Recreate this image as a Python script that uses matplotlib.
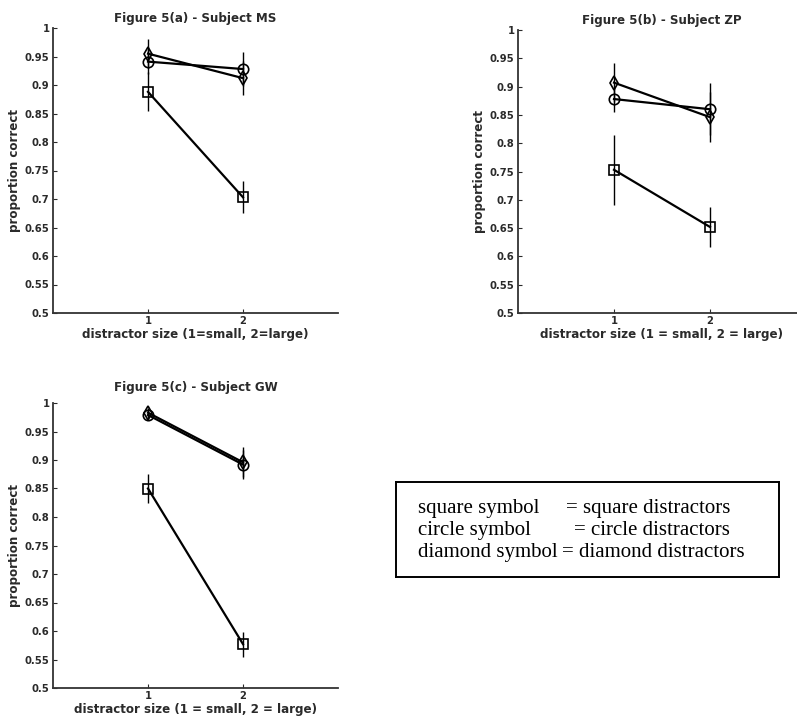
import matplotlib
matplotlib.use("Agg")
import matplotlib.pyplot as plt
from matplotlib.ticker import FormatStrFormatter, MultipleLocator

# distractor size levels
SIZES = [1, 2]

# subject MS
MS_SQUARE = [0.888, 0.703]
MS_SQUARE_ERR = [0.034, 0.028]
MS_CIRCLE = [0.941, 0.928]
MS_CIRCLE_ERR = [0.022, 0.030]
MS_DIAMOND = [0.955, 0.912]
MS_DIAMOND_ERR = [0.025, 0.030]

# subject ZP
ZP_SQUARE = [0.753, 0.652]
ZP_SQUARE_ERR = [0.062, 0.036]
ZP_CIRCLE = [0.878, 0.860]
ZP_CIRCLE_ERR = [0.022, 0.046]
ZP_DIAMOND = [0.907, 0.846]
ZP_DIAMOND_ERR = [0.034, 0.044]

# subject GW
GW_SQUARE = [0.850, 0.577]
GW_SQUARE_ERR = [0.025, 0.022]
GW_CIRCLE = [0.979, 0.892]
GW_CIRCLE_ERR = [0.008, 0.026]
GW_DIAMOND = [0.983, 0.896]
GW_DIAMOND_ERR = [0.008, 0.026]

TITLES = ["Figure 5(a) - Subject MS", "Figure 5(b) - Subject ZP", "Figure 5(c) - Subject GW"]
XLABELS = ["distractor size (1=small, 2=large)",
           "distractor size (1 = small, 2 = large)",
           "distractor size (1 = small, 2 = large)"]
YLABEL = "proportion correct"

KEY_LEFT = ["square symbol", "circle symbol", "diamond symbol"]
KEY_RIGHT = ["= square distractors", "= circle distractors", "= diamond distractors"]

plt.rcParams["font.family"] = ["DejaVu Sans"]
plt.rcParams["font.weight"] = "bold"

TXT = "#2a2a2a"
W, H = 797, 723
fig = plt.figure(figsize=(W / 100, H / 100), dpi=100)


def px_axes(x0, y0, x1, y1):
    return fig.add_axes([x0 / W, 1 - y1 / H, (x1 - x0) / W, (y1 - y0) / H])


def panel(ax, series, title, xlabel, title_pad=4):
    for (vals, errs, mk) in series:
        ax.errorbar(SIZES, vals, yerr=errs, color="black", lw=1.6, elinewidth=1.0,
                    capsize=0, marker=mk, markersize=7.5, markerfacecolor="none",
                    markeredgecolor="black", markeredgewidth=1.2)
    ax.set_xlim(0, 3)
    ax.set_ylim(0.5, 1.0)
    ax.set_xticks(SIZES)
    ax.yaxis.set_major_locator(MultipleLocator(0.05))
    ax.yaxis.set_major_formatter(FormatStrFormatter("%g"))
    for s in ("top", "right"):
        ax.spines[s].set_visible(False)
    for s in ("left", "bottom"):
        ax.spines[s].set_linewidth(1.3)
        ax.spines[s].set_color("#333333")
    ax.tick_params(direction="in", length=3, width=0.8, labelsize=7.2, pad=2.5,
                   colors=TXT)
    for t in ax.get_xticklabels() + ax.get_yticklabels():
        t.set_fontweight("bold")
    ax.set_title(title, fontsize=8.6, fontweight="bold", color=TXT, pad=title_pad)
    ax.set_xlabel(xlabel, fontsize=8.6, fontweight="bold", color=TXT, labelpad=1)
    ax.set_ylabel(YLABEL, fontsize=8.6, fontweight="bold", color=TXT, labelpad=3)


ax_a = px_axes(53, 28, 338, 313)
panel(ax_a, [(MS_SQUARE, MS_SQUARE_ERR, "s"), (MS_CIRCLE, MS_CIRCLE_ERR, "o"),
             (MS_DIAMOND, MS_DIAMOND_ERR, "d")], TITLES[0], XLABELS[0])

ax_b = px_axes(518, 30, 806, 313)
panel(ax_b, [(ZP_SQUARE, ZP_SQUARE_ERR, "s"), (ZP_CIRCLE, ZP_CIRCLE_ERR, "o"),
             (ZP_DIAMOND, ZP_DIAMOND_ERR, "d")], TITLES[1], XLABELS[1])

ax_c = px_axes(53, 403, 338, 688)
panel(ax_c, [(GW_SQUARE, GW_SQUARE_ERR, "s"), (GW_CIRCLE, GW_CIRCLE_ERR, "o"),
             (GW_DIAMOND, GW_DIAMOND_ERR, "d")], TITLES[2], XLABELS[2], title_pad=9)

# key box, text clipped at the right border
ax_k = px_axes(396, 482, 779, 577)
ax_k.set_xlim(0, 383)
ax_k.set_ylim(95, 0)
ax_k.set_xticks([])
ax_k.set_yticks([])
for s in ax_k.spines.values():
    s.set_linewidth(1.4)
rows_y = [31, 53, 75]
eq_x = [170, 178, 166]
for y, left, right, ex in zip(rows_y, KEY_LEFT, KEY_RIGHT, eq_x):
    ax_k.text(22, y, left, family="Liberation Serif", fontweight="normal",
              fontsize=15, va="baseline", ha="left", clip_on=True)
    ax_k.text(ex, y, right, family="Liberation Serif", fontweight="normal",
              fontsize=15, va="baseline", ha="left", clip_on=True)

fig.savefig("out.png", dpi=100)
